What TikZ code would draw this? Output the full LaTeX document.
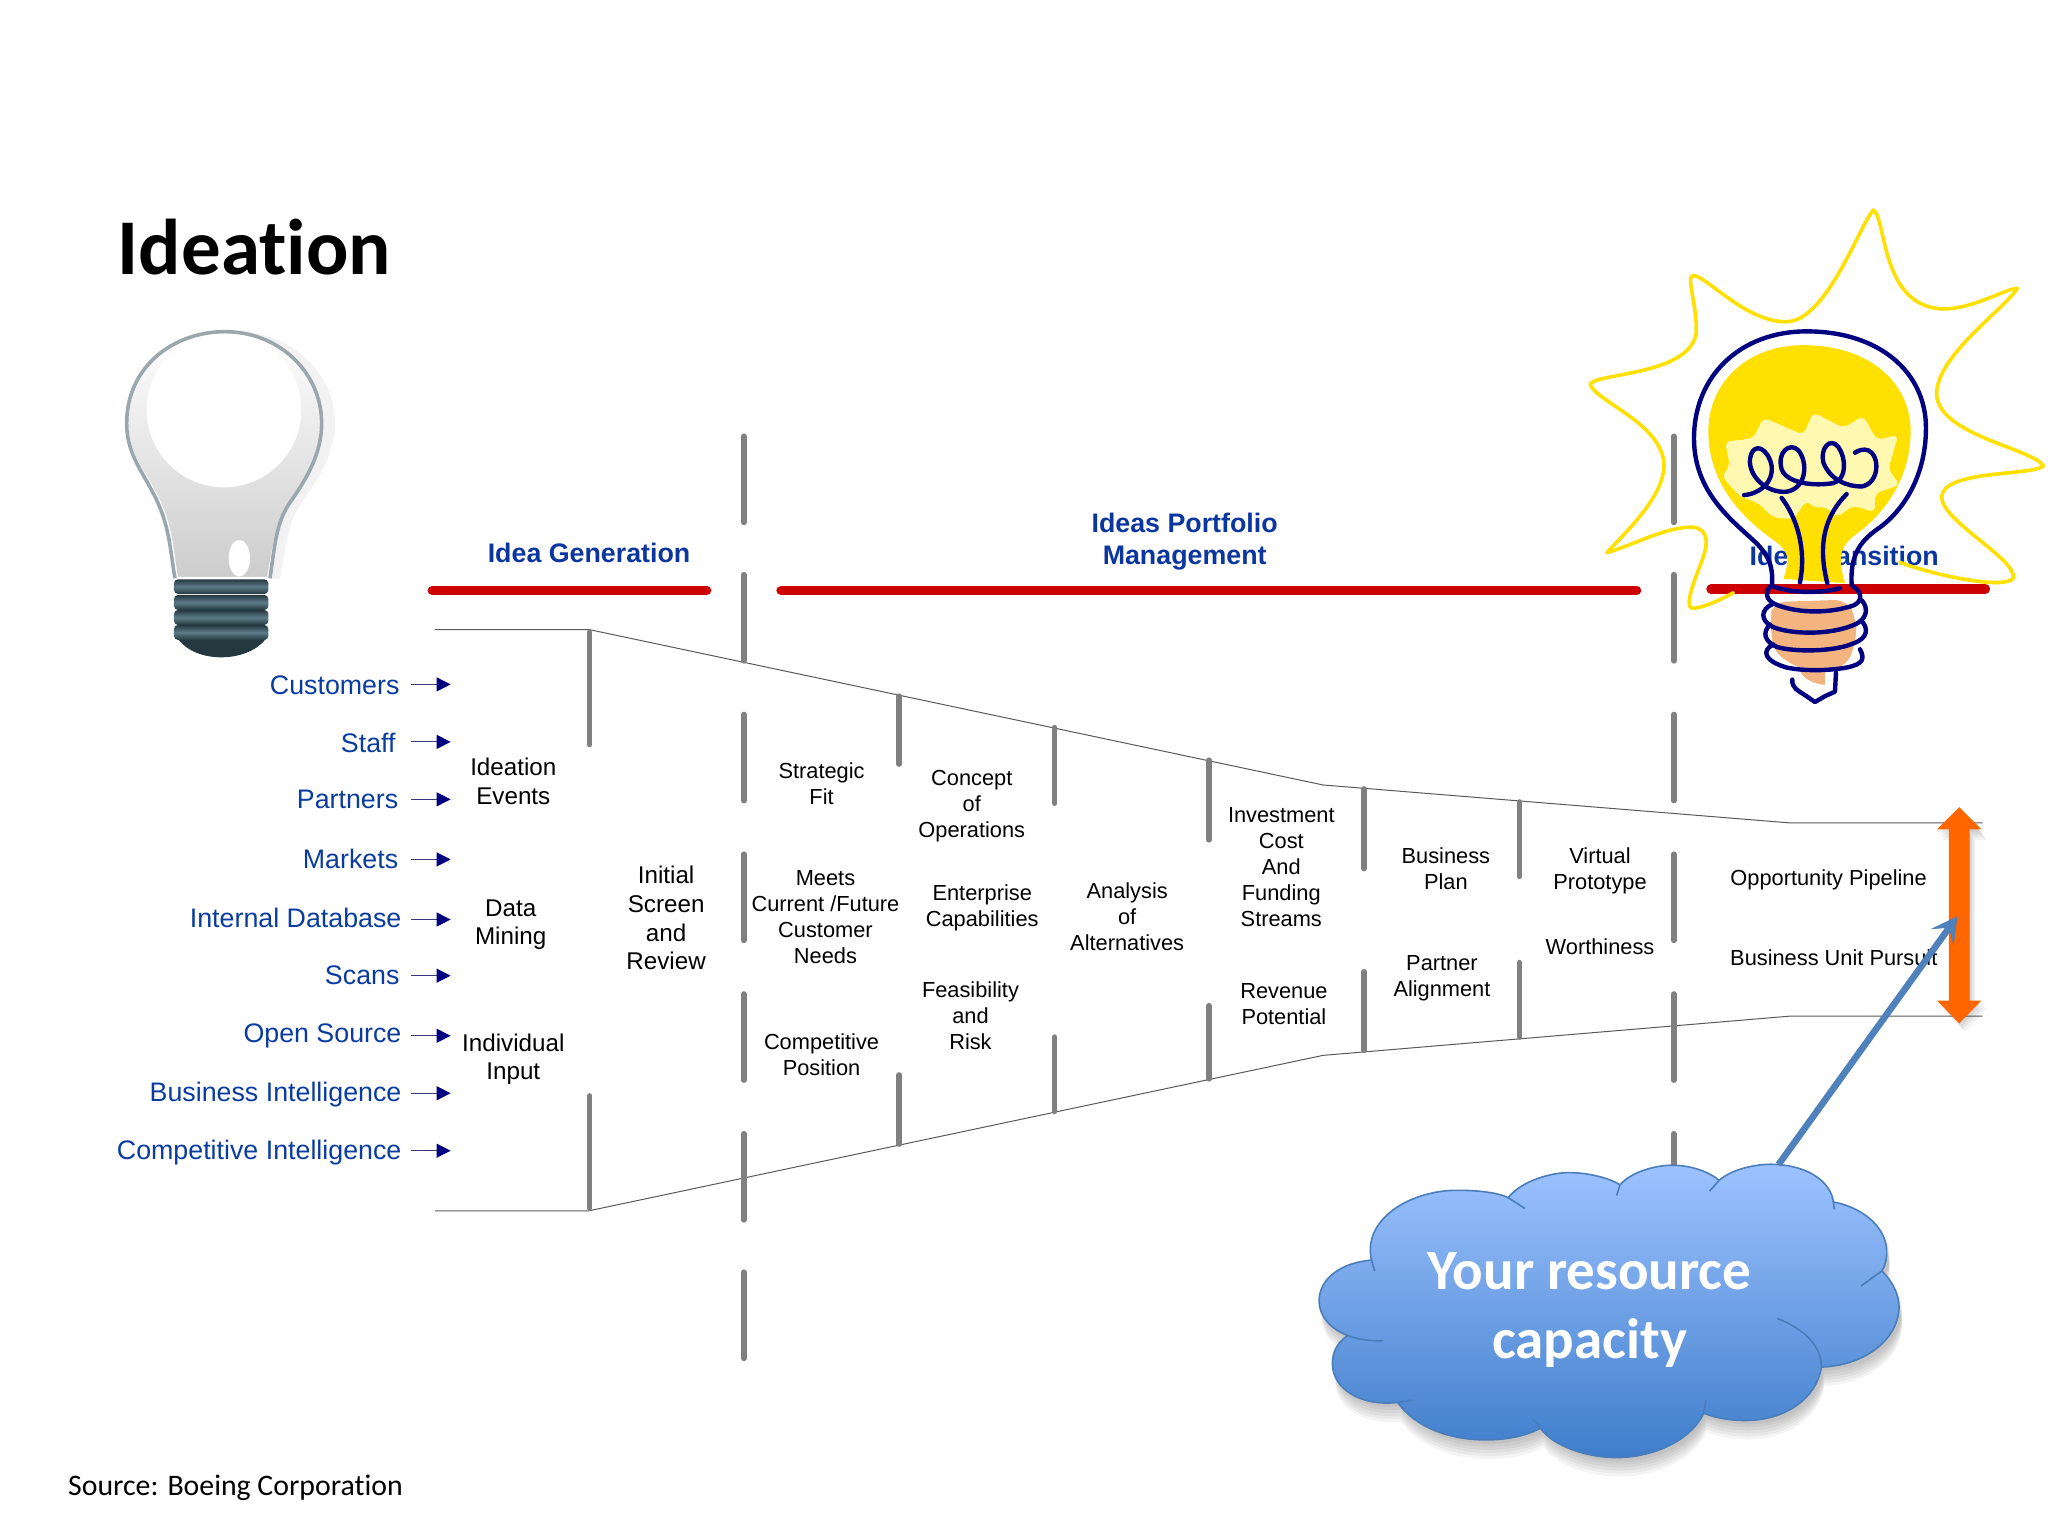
\documentclass[tikz,border=0pt]{standalone}
\usepackage{fontspec}
\setmainfont{Liberation Sans}
\newfontfamily\slidefont[Ligatures=NoCommon]{Carlito}
\usetikzlibrary{arrows.meta}
\definecolor{headblue}{HTML}{0B36A0}
\definecolor{srcblue}{HTML}{0A3CA0}
\definecolor{barred}{HTML}{CC0000}
\definecolor{bargray}{HTML}{808080}
\definecolor{sunyellow}{HTML}{FFE000}
\definecolor{palesun}{HTML}{FFF8B0}
\definecolor{bulbnavy}{HTML}{000080}
\definecolor{capskin}{HTML}{F3B47F}
\definecolor{cloudline}{HTML}{4A7EBB}
\definecolor{cloudtop}{HTML}{9DC3FF}
\definecolor{cloudbot}{HTML}{3F7DCB}
\definecolor{pipeorange}{HTML}{FF6600}
\definecolor{pointer}{HTML}{4F81BD}
\definecolor{glassline}{HTML}{9AA8AE}
\definecolor{capdark}{HTML}{24383F}
\definecolor{capmid}{HTML}{5C7C88}
\tikzstyle{label} = [inner sep=0pt, align=center, text=black, font=\fontsize{21.8}{26}\selectfont]
\tikzstyle{biglabel} = [inner sep=0pt, align=center, text=black, font=\fontsize{24.2}{28.7}\selectfont]
\tikzstyle{phase} = [inner sep=0pt, align=center, text=headblue, font=\bfseries\fontsize{26.8}{32}\selectfont]
\tikzstyle{source} = [inner sep=0pt, anchor=base east, text=srcblue, font=\fontsize{26.8}{30}\selectfont]
\tikzstyle{feed} = [line width=1.1pt, draw=bulbnavy!55!gray, -{Triangle[length=14pt,width=14pt,color=bulbnavy]}]
\tikzstyle{gate} = [line width=5.5pt, draw=bargray, line cap=round, shorten >=2.6pt, shorten <=2.6pt, xshift=.6pt]
\tikzstyle{redbar} = [line width=9.5pt, draw=barred, line cap=round]
\tikzstyle{funnel} = [line width=1pt, draw=black!65]
\tikzstyle{sunline} = [line width=3.6pt, draw=sunyellow, line cap=round, line join=round]
\tikzstyle{navyline} = [line width=4.4pt, draw=bulbnavy, line cap=round, line join=round]
\tikzset{cloudpath/.style={insert path={
  (150,1060) .. controls (130,960) and (240,895) .. (335,898) .. controls (380,898) and (420,905) .. (437,915)
  .. controls (470,870) and (540,855) .. (570,857) .. controls (610,858) and (650,870) .. (672,885)
  .. controls (700,850) and (760,838) .. (785,840) .. controls (820,840) and (860,855) .. (880,875)
  .. controls (910,845) and (970,835) .. (1000,838) .. controls (1070,842) and (1115,880) .. (1120,925)
  .. controls (1190,940) and (1232,990) .. (1232,1040) .. controls (1232,1060) and (1228,1075) .. (1222,1085)
  .. controls (1245,1110) and (1258,1140) .. (1258,1170) .. controls (1255,1250) and (1180,1305) .. (1095,1308)
  .. controls (1085,1380) and (1020,1432) .. (935,1432) .. controls (900,1432) and (870,1425) .. (848,1415)
  .. controls (820,1480) and (740,1518) .. (665,1518) .. controls (600,1518) and (530,1490) .. (505,1450)
  .. controls (470,1470) and (430,1477) .. (390,1477) .. controls (310,1477) and (240,1445) .. (205,1390)
  .. controls (130,1400) and (68,1360) .. (68,1300) .. controls (68,1270) and (80,1250) .. (100,1235)
  .. controls (65,1220) and (40,1190) .. (40,1155) .. controls (40,1100) and (90,1065) .. (150,1060) -- cycle}}}
\begin{document}
\begin{tikzpicture}[x=1.30612pt, y=-1.30612pt]
    \useasboundingbox (0,0) rectangle (1568,1176);

    % Funnel
    \coordinate (topa) at (333,482);
    \coordinate (topb) at (451,482);
    \coordinate (topc) at (1013,601);
    \coordinate (topd) at (1370,630);
    \coordinate (tope) at (1518,630);
    \coordinate (bota) at (333,927);
    \coordinate (botb) at (451,927);
    \coordinate (botc) at (1013,808);
    \coordinate (botd) at (1370,778);
    \coordinate (bote) at (1518,778);
    \draw [funnel] (topa) -- (topb) -- (topc) -- (topd) -- (tope);
    \draw [funnel] (bota) -- (botb) -- (botc) -- (botd) -- (bote);

    % Gates
    \foreach \gx in {569,1281}
        \foreach \ga/\gb in {332/402,438/508,545/615,652/722,759/829,866/936}
            \draw [gate] (\gx,\ga) -- (\gx,\gb);
    \draw [gate] (569,972) -- (569,1042);
    \foreach \gx/\ga/\gb/\gc/\gd in {451/482/572/837/927,688/531/587/821/878,807/555/617/792/853,925/580/645/768/828,1044/602/667/742/806,1163/612/673/735/796} {
        \draw [gate] (\gx,\ga) -- (\gx,\gb);
        \draw [gate] (\gx,\gc) -- (\gx,\gd);
    }

    % Title and source
    \node [inner sep=0pt, anchor=west, font=\slidefont\bfseries\fontsize{79}{90}\selectfont] (title) at (90,189) {Ideation};
    \node [inner sep=0pt, anchor=west, font=\slidefont\fontsize{29.8}{34}\selectfont] (credit) at (52,1139) {Source: Boeing Corporation};

    % Phase headers
    \node [phase] (ideagen) at (451,423) {Idea Generation};
    \node [phase] (portfolio) at (907,415) {Ideas Portfolio\\Management};
    \node [phase] (transition) at (1412,426) {Idea Transition};
    \draw [redbar] (331,452) -- (541,452);
    \draw [redbar] (598,452) -- (1253,452);
    \draw [redbar] (1310,451) -- (1520,451);

    % Sources
    \foreach \sname/\stext/\sx/\sy/\ay in {cust/Customers/306/524/524, staff/Staff/303/568/568, part/Partners/305/611/612, mark/Markets/305/657/658, data/Internal Database/307.5/702/704, scan/Scans/306/746/747, open/Open Source/307.5/790/793, bint/Business Intelligence/307.5/835/837, cint/Competitive Intelligence/307.5/880/881} {
        \node [source] (\sname) at (\sx,\sy+8) {\stext};
        \coordinate (\sname from) at (314.5,\ay);
        \coordinate (\sname to) at (345,\ay);
        \draw [feed] (\sname from) -- (\sname to);
    }

    % Stage labels
    \node [biglabel] (events) at (393,598) {Ideation\\Events};
    \node [biglabel] (mining) at (391,708) {Data\\Mining};
    \node [biglabel] (input) at (393,811) {Individual\\Input};
    \node [biglabel] (screen) at (510,703) {Initial\\Screen\\and\\Review};
    \node [label] (fit) at (629,600) {Strategic\\Fit};
    \node [label] (needs) at (632,702) {Meets\\Current /Future\\Customer\\Needs};
    \node [label] (position) at (629,807.5) {Competitive\\Position};
    \node [label] (concept) at (744,617) {Concept\\of\\Operations};
    \node [label] (enterprise) at (752,695) {Enterprise\\Capabilities};
    \node [label] (risk) at (743,778) {Feasibility\\and\\Risk};
    \node [label] (analysis) at (863,702) {Analysis\\of\\Alternatives};
    \node [label] (invest) at (981,664) {Investment\\Cost\\And\\Funding\\Streams};
    \node [label] (revenue) at (983,769) {Revenue\\Potential};
    \node [label] (plan) at (1107,665) {Business\\Plan};
    \node [label] (partner) at (1104,749) {Partner\\Alignment};
    \node [label] (virtual) at (1225,667) {Virtual\\Prototype};
    \node [label] (worth) at (1225,725) {Worthiness};
    \node [label] (pipeline) at (1400,674) {Opportunity Pipeline};
    \node [label] (pursuit) at (1404,733) {Business Unit Pursuit};

    % Plain bulb
    \begin{scope}[x=.3333pt, y=-.3333pt, shift={(100pt,-310pt)}]
        \fill [black!5] (265,805) .. controls (250,720) and (250,650) .. (205,560) .. controls (165,480) and (115,430) .. (115,340) .. controls (115,170) and (255,65) .. (410,65) .. controls (575,65) and (705,190) .. (705,340) .. controls (705,440) and (645,520) .. (600,585) .. controls (565,640) and (560,700) .. (540,805) -- cycle;
        \shade [top color=white, bottom color=black!20, middle color=black!10, draw=white, line width=3pt] (230,805) .. controls (215,720) and (215,650) .. (170,560) .. controls (130,480) and (80,430) .. (80,340) .. controls (80,170) and (220,65) .. (375,65) .. controls (540,65) and (665,190) .. (665,340) .. controls (665,440) and (610,520) .. (565,585) .. controls (530,640) and (525,700) .. (505,805) -- cycle;
        \fill [white] (372,300) ellipse [x radius=232, y radius=232];
        \draw [line width=3.6pt, draw=glassline] (225,805) .. controls (210,720) and (210,650) .. (165,560) .. controls (125,480) and (80,430) .. (80,340) .. controls (80,170) and (220,65) .. (375,65) .. controls (540,65) and (665,190) .. (665,340) .. controls (665,440) and (610,520) .. (565,585) .. controls (530,640) and (525,700) .. (510,805);
        \fill [white] (418,745) ellipse [x radius=32, y radius=55];
        \fill [capdark] (225,975) .. controls (260,1030) and (320,1042) .. (365,1042) .. controls (420,1042) and (480,1020) .. (505,975) -- cycle;
        \foreach \ba/\bb in {808/852,855/900,900/945,945/990}
            \shade [top color=capdark, bottom color=capdark, middle color=capmid, rounded corners=4pt] (222,\ba) rectangle (505,\bb);
    \end{scope}

    % Lit bulb
    \begin{scope}[x=.3333pt, y=-.3448pt, shift={(1560pt,-190pt)}]
        \draw [sunline] (520,1168) .. controls (480,1190) and (420,1215) .. (395,1213) .. controls (375,1205) and (400,1140) .. (420,1090) .. controls (445,1030) and (450,985) .. (400,978) .. controls (320,975) and (220,1030) .. (140,1052) .. controls (200,990) and (310,890) .. (312,800) .. controls (310,680) and (120,620) .. (90,565) .. controls (100,530) and (380,540) .. (408,420) .. controls (415,340) and (375,250) .. (400,248) .. controls (440,250) and (560,385) .. (680,382) .. controls (800,380) and (900,100) .. (940,58) .. controls (980,80) and (960,340) .. (1150,345) .. controls (1240,345) and (1340,285) .. (1372,285) .. controls (1340,340) and (1130,480) .. (1130,590) .. controls (1130,710) and (1420,750) .. (1450,800) .. controls (1420,830) and (1150,810) .. (1145,890) .. controls (1145,960) and (1370,1070) .. (1360,1125) .. controls (1340,1160) and (1130,1120) .. (1020,1080);
        \fill [sunyellow] (670,1128) .. controls (690,1070) and (690,1050) .. (640,1015) .. controls (560,960) and (445,860) .. (445,700) .. controls (445,560) and (560,450) .. (730,450) .. controls (930,450) and (1052,560) .. (1052,700) .. controls (1052,830) and (980,930) .. (900,990) .. controls (840,1030) and (830,1060) .. (855,1140) -- cycle;
        \fill [palesun, rounded corners=6pt] (495,730) -- (580,720) -- (610,660) -- (730,710) -- (760,645) -- (850,690) -- (910,655) -- (950,725) -- (1015,710) -- (985,810) -- (1020,855) -- (945,880) -- (945,935) -- (880,915) -- (830,950) -- (790,915) -- (765,925) -- (740,900) -- (700,955) -- (640,950) -- (590,905) -- (540,890) -- (485,830) -- (510,800) -- cycle;
        \fill [capskin, rounded corners=12pt] (640,1195) -- (860,1188) -- (888,1240) -- (890,1300) -- (862,1380) -- (795,1395) -- (720,1390) -- (640,1340) -- (630,1240) -- cycle;
        \fill [capskin] (720,1395) -- (795,1395) -- (795,1435) .. controls (770,1435) and (730,1420) .. (720,1395) -- cycle;
        \draw [navyline] (636,1145) .. controls (640,1090) and (625,1060) .. (590,1025) .. controls (520,960) and (402,880) .. (402,720) .. controls (402,540) and (540,410) .. (740,410) .. controls (960,410) and (1098,530) .. (1098,690) .. controls (1098,840) and (1020,940) .. (950,985) .. controls (900,1020) and (870,1060) .. (875,1145);
        \draw [navyline] (552,885) .. controls (600,880) and (640,850) .. (635,800) .. controls (625,750) and (580,725) .. (570,780) .. controls (565,830) and (620,880) .. (680,875) .. controls (740,865) and (745,790) .. (715,755) .. controls (690,730) and (650,760) .. (665,810) .. controls (680,850) and (760,860) .. (820,850) .. controls (860,840) and (860,780) .. (835,745) .. controls (810,715) and (780,750) .. (790,790) .. controls (810,840) and (860,860) .. (905,860) .. controls (960,850) and (960,770) .. (925,755) .. controls (910,750) and (895,755) .. (885,762);
        \draw [navyline] (665,893) .. controls (710,950) and (740,1040) .. (720,1138);
        \draw [navyline] (860,882) .. controls (800,940) and (770,1020) .. (802,1140);
        \draw [navyline] (640,1150) .. controls (700,1170) and (780,1170) .. (840,1155);
        \draw [navyline] (630,1150) .. controls (610,1175) and (625,1195) .. (655,1205) .. controls (720,1228) and (810,1228) .. (880,1205) .. controls (905,1195) and (910,1170) .. (880,1150);
        \draw [navyline] (640,1200) .. controls (600,1215) and (600,1250) .. (640,1268) .. controls (700,1290) and (810,1290) .. (880,1262) .. controls (925,1245) and (925,1210) .. (905,1190);
        \draw [navyline] (630,1260) .. controls (605,1285) and (615,1310) .. (650,1325) .. controls (700,1340) and (820,1340) .. (880,1315) .. controls (925,1300) and (925,1270) .. (905,1250);
        \draw [navyline] (640,1318) .. controls (605,1335) and (610,1365) .. (680,1385) .. controls (730,1395) and (800,1395) .. (860,1385) .. controls (910,1375) and (915,1360) .. (900,1332);
        \draw [navyline] (697,1420) .. controls (695,1445) and (715,1452) .. (735,1465) -- (765,1485) -- (795,1468) -- (825,1455) -- (828,1400);
    \end{scope}

    % Pipeline arrow
    \foreach \sx in {1,3,5,7} {
        \fill [black, opacity=.05] (1500+\sx*.6,618+\sx) -- (1517+\sx*.6,636+\sx) -- (1508+\sx*.6,636+\sx) -- (1508+\sx*.6,765+\sx) -- (1517+\sx*.6,765+\sx) -- (1500+\sx*.6,783+\sx) -- (1483+\sx*.6,765+\sx) -- (1492+\sx*.6,765+\sx) -- (1492+\sx*.6,636+\sx) -- (1483+\sx*.6,636+\sx) -- cycle;
    }
    \fill [pipeorange] (1500,618) -- (1517,635) -- (1508,635) -- (1508,766) -- (1517,766) -- (1500,783.5) -- (1483,766) -- (1492,766) -- (1492,635) -- (1483,635) -- cycle;
    \coordinate (pipemid) at (1498.6,701.5);

    % Cloud
    \begin{scope}[x=.4762pt, y=-.4310pt, shift={(1300pt,-803.3pt)}]
        \foreach \sy in {4,7,10,13,16,19}
            \fill [black, opacity=.045, yshift=-\sy pt, xshift=3pt, cloudpath];
        \shade [top color=cloudtop, bottom color=cloudbot, draw=cloudline, line width=1.6pt, cloudpath];
        \draw [line width=1.6pt, draw=cloudline] (150,1060) -- (157,1085) (437,915) -- (472,940) (672,885) -- (665,910) (880,875) -- (860,900) (1120,925) -- (1122,942) (1222,1085) -- (1178,1120) (848,1415) -- (852,1385) (505,1450) -- (490,1430) (205,1390) -- (235,1385);
        \draw [line width=1.6pt, draw=cloudline] (1002,1195) .. controls (1060,1220) and (1095,1260) .. (1095,1308);
        \draw [line width=1.6pt, draw=cloudline] (100,1235) .. controls (125,1245) and (150,1248) .. (175,1247);
        \coordinate (cloudtopedge) at (1005,838);
    \end{scope}
    \node [inner sep=0pt, align=center, text=white, font=\slidefont\bfseries\fontsize{57}{69}\selectfont] (capacity) at (1217,1003) {Your resource\\capacity};

    % Arrow
    \draw [line width=6.5pt, draw=black, opacity=.15, xshift=3pt, yshift=-3pt, -{Stealth[length=26pt,width=28pt,inset=12pt]}] (cloudtopedge) -- (pipemid);
    \draw [line width=6.5pt, draw=pointer, -{Stealth[length=26pt,width=28pt,inset=12pt]}] (cloudtopedge) -- (pipemid);
\end{tikzpicture}
\end{document}
